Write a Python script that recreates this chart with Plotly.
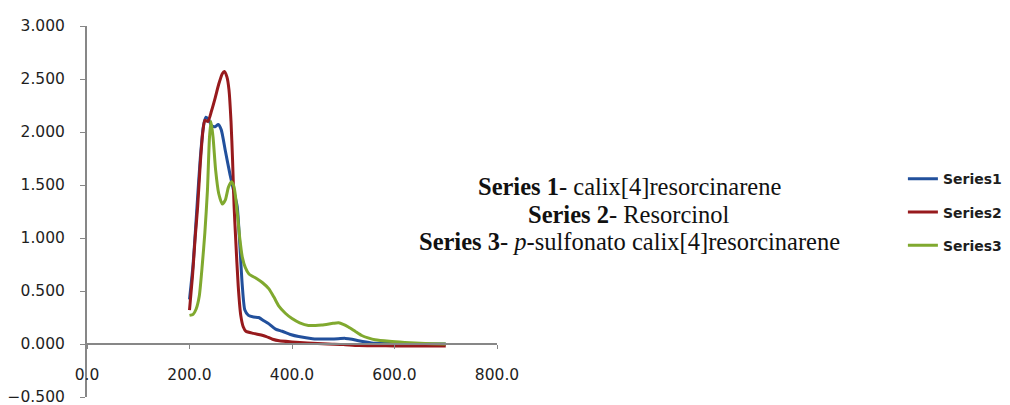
import plotly.graph_objects as go

# ---- data ----
s1_x = [200, 207, 214, 221, 227, 232, 237, 243, 250, 256, 262, 270, 279, 286, 293, 298, 303, 308, 315,
        325, 335, 345, 355, 368, 381, 397, 413, 440, 465, 490, 504, 517, 530, 555, 600, 650, 700]
s1_y = [0.42, 0.75, 1.25, 1.75, 2.05, 2.14, 2.12, 2.06, 2.05, 2.07, 2.02, 1.82, 1.60, 1.45, 1.30, 0.95,
        0.55, 0.32, 0.27, 0.255, 0.25, 0.22, 0.19, 0.14, 0.12, 0.09, 0.07, 0.05, 0.047, 0.05, 0.053,
        0.045, 0.03, 0.01, 0.005, 0.0, 0.0]

s2_x = [200, 206, 211, 216, 221, 226, 230, 236, 243, 250, 257, 264, 268, 273, 277, 281, 284, 287, 290,
        295, 300, 305, 310, 325, 340, 350, 362, 375, 400, 430, 470, 500, 530, 600, 650, 700]
s2_y = [0.32, 0.65, 1.00, 1.30, 1.70, 2.00, 2.11, 2.10, 2.20, 2.32, 2.45, 2.55, 2.57, 2.52, 2.40, 2.10,
        1.74, 1.30, 1.00, 0.55, 0.27, 0.16, 0.12, 0.10, 0.085, 0.07, 0.045, 0.03, 0.02, 0.01, 0.0,
        -0.005, -0.015, -0.018, -0.02, -0.02]

s3_x = [200, 207, 213, 219, 225, 230, 235, 239, 242, 246, 251, 257, 264, 270, 276, 282, 287, 293, 298,
        303, 309, 316, 330, 342, 355, 365, 374, 387, 400, 415, 432, 458, 480, 491, 500, 510, 523, 536,
        550, 562, 590, 620, 660, 700]
s3_y = [0.27, 0.28, 0.33, 0.45, 0.75, 1.05, 1.45, 1.95, 2.10, 1.95, 1.64, 1.42, 1.32, 1.36, 1.48, 1.53,
        1.48, 1.25, 1.00, 0.82, 0.72, 0.66, 0.62, 0.58, 0.52, 0.44, 0.36, 0.29, 0.24, 0.20, 0.175, 0.18,
        0.195, 0.20, 0.185, 0.16, 0.12, 0.08, 0.055, 0.04, 0.025, 0.015, 0.005, 0.0]

series_names = ["Series1", "Series2", "Series3"]
series_colors = ["#22509c", "#971a1d", "#80a92f"]

x_ticks = [0, 200, 400, 600, 800]
y_ticks = [-0.5, 0.0, 0.5, 1.0, 1.5, 2.0, 2.5, 3.0]

note_lines = [
    "<b>Series 1</b>- calix[4]resorcinarene",
    "<b>Series 2</b>- Resorcinol",
    "<b>Series 3</b>- <i>p</i>-sulfonato calix[4]resorcinarene",
]

# ---- figure ----
fig = go.Figure()
for i, (xs, ys) in enumerate([(s1_x, s1_y), (s2_x, s2_y), (s3_x, s3_y)]):
    fig.add_trace(go.Scatter(
        x=xs, y=ys, mode="lines", name=series_names[i], legendgroup=series_names[i],
        line=dict(color=series_colors[i], width=3, shape="spline", smoothing=0.6),
    ))

axis_col = "#878787"
tick_font = dict(family="DejaVu Sans", size=15.5, color="#1e1e1e")

# the page body adds an 8px margin, so the figure is sized 8px smaller
fig.update_layout(
    width=1002, height=397,
    margin=dict(l=79, r=513, t=18, b=8, autoexpand=False),
    paper_bgcolor="white", plot_bgcolor="white",
    showlegend=True,
    legend=dict(
        x=1.99, y=0.63, xanchor="left", yanchor="top",
        traceorder="grouped", tracegroupgap=12,
        font=dict(family="DejaVu Sans", size=14, color="#1e1e1e", weight="bold"),
        bgcolor="rgba(0,0,0,0)",
    ),
    xaxis=dict(
        range=[0, 800], tickvals=x_ticks, tickformat=".1f",
        anchor="free", position=0.5 / 3.5,
        showline=True, linecolor=axis_col, linewidth=2,
        ticks="outside", ticklen=4, tickcolor=axis_col, tickwidth=1,
        ticklabelstandoff=12, ticklabeloverflow="allow",
        showgrid=False, zeroline=False, tickfont=tick_font,
    ),
    yaxis=dict(
        range=[-0.5, 3.0], tickvals=y_ticks, tickformat=".3f",
        showline=True, linecolor=axis_col, linewidth=2,
        ticks="outside", ticklen=5, tickcolor=axis_col, tickwidth=1,
        ticklabelstandoff=12, ticklabeloverflow="allow",
        showgrid=False, zeroline=False, tickfont=tick_font,
    ),
)

note_y = [0.567, 0.492, 0.419]
for txt, yy in zip(note_lines, note_y):
    fig.add_annotation(
        text=txt, xref="paper", yref="paper", x=1.322, y=yy,
        xanchor="center", yanchor="middle", showarrow=False,
        font=dict(family="Liberation Serif", size=24.5, color="#111111"),
    )

fig.write_html("out.html")
